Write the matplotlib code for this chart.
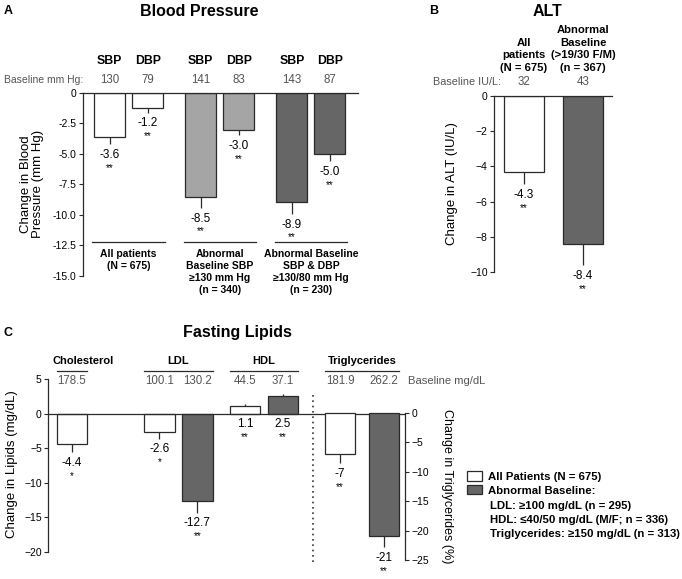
import matplotlib
matplotlib.use("Agg")
import matplotlib.pyplot as plt
import matplotlib.transforms as mtransforms
from matplotlib.patches import Patch

plt.rcParams['font.family'] = ['Liberation Sans', 'DejaVu Sans']

# ---- data ----
bp_measures = ["SBP", "DBP"]
bp_groups = ["All patients\n(N = 675)",
             "Abnormal\nBaseline SBP\n≥130 mm Hg\n(n = 340)",
             "Abnormal Baseline\nSBP & DBP\n≥130/80 mm Hg\n(n = 230)"]
bp_baseline = [130, 79, 141, 83, 143, 87]
bp_change = [-3.6, -1.2, -8.5, -3.0, -8.9, -5.0]
bp_err = [0.6, 0.4, 0.9, 0.45, 1.0, 0.6]
bp_sig = ["**", "**", "**", "**", "**", "**"]

alt_groups = ["All\npatients\n(N = 675)", "Abnormal\nBaseline\n(>19/30 F/M)\n(n = 367)"]
alt_baseline = [32, 43]
alt_change = [-4.3, -8.4]
alt_err = [0.7, 1.2]
alt_sig = ["**", "**"]

lipid_names = ["Cholesterol", "LDL", "HDL", "Triglycerides"]
lipid_members = [[0], [1, 2], [3, 4], [5, 6]]
lipid_baseline = ["178.5", "100.1", "130.2", "44.5", "37.1", "181.9", "262.2"]
lipid_change = [-4.4, -2.6, -12.7, 1.1, 2.5, -7, -21]
lipid_err = [1.2, 1.0, 1.6, 0.35, 0.4, 1.5, 1.8]
lipid_sig = ["*", "*", "**", "**", "**", "**", "**"]
lipid_pop = ["all", "all", "abn", "all", "abn", "all", "abn"]
lipid_on_right = [False, False, False, False, False, True, True]

legend_labels = ["All Patients (N = 675)", "Abnormal Baseline:"]
legend_extra = ["LDL: ≥100 mg/dL (n = 295)",
                "HDL: ≤40/50 mg/dL (M/F; n = 336)",
                "Triglycerides: ≥150 mg/dL (n = 313)"]

# ---- style / layout ----
W, H = 682, 579
WHITE, LIGHT, DARK = "#ffffff", "#a5a5a5", "#666666"
EDGE = "#2a2a2a"
GREY_TXT = "#555555"
TICK_FS, LAB_FS, HEAD_FS, YL_FS, TITLE_FS = 7.5, 8.5, 8, 9.5, 11.5
BASE_FS, LEG_FS = 8.3, 8.2

fig = plt.figure(figsize=(W / 100, H / 100), dpi=100)


def box(x0, y0, x1, y1):
    return [x0 / W, 1 - y1 / H, (x1 - x0) / W, (y1 - y0) / H]


def fy(py):
    return 1 - py / H


def one_sided(vals, errs):
    lo = [e if v < 0 else 0 for v, e in zip(vals, errs)]
    hi = [e if v > 0 else 0 for v, e in zip(vals, errs)]
    return [lo, hi]


def style_axis(ax):
    ax.tick_params(axis='y', labelsize=TICK_FS, length=3, width=0.8, pad=1.5, color=EDGE)
    ax.set_xticks([])
    for s in ax.spines.values():
        s.set_color(EDGE)
        s.set_linewidth(0.9)


def value_labels(ax, xs, vals, errs, sigs, fmt):
    for x, v, e, s in zip(xs, vals, errs, sigs):
        y0 = v - e if v < 0 else 0
        ax.annotate(fmt(v), (x, y0), xytext=(0, -3.5), textcoords='offset points',
                    ha='center', va='top', fontsize=LAB_FS, annotation_clip=False)
        ax.annotate(s, (x, y0), xytext=(0, -13.5), textcoords='offset points',
                    ha='center', va='top', fontsize=LAB_FS - 1.5, annotation_clip=False)


bar_kw = dict(edgecolor=EDGE, linewidth=0.9,
              error_kw=dict(ecolor=EDGE, elinewidth=0.9, capsize=0))

# ================= A: blood pressure =================
axA = fig.add_axes(box(83, 93, 358, 276))
group_start = [0, 2.4, 4.8]
xA = [g + m for g in group_start for m in range(len(bp_measures))]
colA = [WHITE, WHITE, LIGHT, LIGHT, DARK, DARK]
axA.bar(xA, bp_change, width=0.82, color=colA,
        yerr=one_sided(bp_change, bp_err), **bar_kw)
axA.set_xlim(-0.70, 6.54)
axA.set_ylim(-15, 0)
ticksA = [0, -2.5, -5, -7.5, -10, -12.5, -15]
axA.set_yticks(ticksA)
axA.set_yticklabels(["0"] + [f"{t:.1f}" for t in ticksA[1:]])
style_axis(axA)
axA.spines['right'].set_visible(False)
axA.spines['bottom'].set_visible(False)
value_labels(axA, xA, bp_change, bp_err, bp_sig, lambda v: f"{v:.1f}")

trA = mtransforms.blended_transform_factory(axA.transData, fig.transFigure)
for i, x in enumerate(xA):
    axA.text(x, fy(61), bp_measures[i % 2], transform=trA, ha='center', va='center',
             fontsize=8.8, fontweight='bold')
    axA.text(x, fy(80), str(bp_baseline[i]), transform=trA, ha='center', va='center',
             fontsize=BASE_FS, color=GREY_TXT)
fig.text(83 / W, fy(80), "Baseline mm Hg:", ha='right', va='center',
         fontsize=7.5, color=GREY_TXT)
for g, lab in zip(group_start, bp_groups):
    c = g + 0.5
    axA.plot([c - 0.95, c + 0.95], [fy(242)] * 2, transform=trA, color=EDGE,
             lw=0.9, clip_on=False)
    axA.text(c, fy(249), lab, transform=trA, ha='center', va='top', fontsize=TICK_FS,
             fontweight='bold', linespacing=1.25)
fig.text(32 / W, fy(184), "Change in Blood\nPressure (mm Hg)", rotation=90,
         ha='center', va='center', fontsize=YL_FS, linespacing=1.1)
fig.text(199 / W, fy(11), "Blood Pressure", ha='center', va='center',
         fontsize=TITLE_FS, fontweight='bold')
fig.text(4 / W, fy(11), "A", ha='left', va='center', fontsize=9, fontweight='bold')

# ================= B: ALT =================
axB = fig.add_axes(box(494, 96, 612, 272))
xB = list(range(len(alt_change)))
axB.bar(xB, alt_change, width=0.67, color=[WHITE, DARK],
        yerr=one_sided(alt_change, alt_err), **bar_kw)
axB.set_xlim(-0.5, 1.49)
axB.set_ylim(-10, 0)
axB.set_yticks([0, -2, -4, -6, -8, -10])
style_axis(axB)
axB.spines['right'].set_visible(False)
axB.spines['bottom'].set_visible(False)
value_labels(axB, xB, alt_change, alt_err, alt_sig, lambda v: f"{v:.1f}")

trB = mtransforms.blended_transform_factory(axB.transData, fig.transFigure)
for x, lab, b in zip(xB, alt_groups, alt_baseline):
    axB.text(x, fy(73), lab, transform=trB, ha='center', va='bottom',
             fontsize=8.1, fontweight='bold', linespacing=1.32)
    axB.text(x, fy(82), str(b), transform=trB, ha='center', va='center',
             fontsize=BASE_FS, color=GREY_TXT)
fig.text(501 / W, fy(82), "Baseline IU/L:", ha='right', va='center',
         fontsize=7.8, color=GREY_TXT)
fig.text(452 / W, fy(184), "Change in ALT (IU/L)", rotation=90,
         ha='center', va='center', fontsize=YL_FS)
fig.text(547 / W, fy(11), "ALT", ha='center', va='center',
         fontsize=TITLE_FS, fontweight='bold')
fig.text(429 / W, fy(11), "B", ha='left', va='center', fontsize=9, fontweight='bold')

# ================= C: fasting lipids =================
axC = fig.add_axes(box(48, 379, 405, 560))
axC2 = axC.twinx()
xC = [0, 2.3, 3.3, 4.55, 5.55, 7.05, 8.2]
wC = 0.8
pop_color = {"all": WHITE, "abn": DARK}
for ax, right in ((axC, False), (axC2, True)):
    idx = [i for i, r in enumerate(lipid_on_right) if r == right]
    xs = [xC[i] for i in idx]
    vals = [lipid_change[i] for i in idx]
    errs = [lipid_err[i] for i in idx]
    ax.bar(xs, vals, width=wC, color=[pop_color[lipid_pop[i]] for i in idx],
           yerr=one_sided(vals, errs), **bar_kw)
    value_labels(ax, xs, vals, errs, [lipid_sig[i] for i in idx], lambda v: f"{v:g}")

axC.set_xlim(-0.63, 8.76)
axC.set_ylim(-21.16, 5)
axC.set_yticks([5, 0, -5, -10, -15, -20])
axC2.set_ylim(-25, 5.78)
axC2.set_yticks([0, -5, -10, -15, -20, -25])
style_axis(axC)
style_axis(axC2)
axC.spines['left'].set_bounds(-20, 5)
axC2.spines['right'].set_bounds(-25, 0)
for s in ('top', 'bottom', 'right'):
    axC.spines[s].set_visible(False)
for s in ('top', 'bottom', 'left'):
    axC2.spines[s].set_visible(False)
axC.axhline(0, color=EDGE, lw=0.9, zorder=3)
axC.axvline(6.34, ymin=-0.01, ymax=0.93, color="#333333", lw=1.2,
            linestyle=(0, (1, 2.2)), clip_on=False)

trC = mtransforms.blended_transform_factory(axC.transData, fig.transFigure)
head_shift = [0.29, 0, 0, 0]
for name, members, sh in zip(lipid_names, lipid_members, head_shift):
    left = xC[members[0]] - wC / 2
    right = xC[members[-1]] + wC / 2
    axC.plot([left, right], [fy(371)] * 2, transform=trC, color=EDGE, lw=0.9,
             clip_on=False)
    axC.text((left + right) / 2 + sh, fy(361), name, transform=trC, ha='center',
             va='center', fontsize=HEAD_FS, fontweight='bold')
for x, b in zip(xC, lipid_baseline):
    axC.text(x, fy(381), b, transform=trC, ha='center', va='center',
             fontsize=BASE_FS, color=GREY_TXT)
fig.text(408 / W, fy(381), "Baseline mg/dL", ha='left', va='center',
         fontsize=8.1, color=GREY_TXT)
fig.text(12 / W, fy(464), "Change in Lipids (mg/dL)", rotation=90,
         ha='center', va='center', fontsize=YL_FS)
fig.text(447 / W, fy(486), "Change in Triglycerides (%)", rotation=270,
         ha='center', va='center', fontsize=YL_FS - 0.5)
fig.text(237 / W, fy(333), "Fasting Lipids", ha='center', va='center',
         fontsize=TITLE_FS, fontweight='bold')
fig.text(4 / W, fy(333), "C", ha='left', va='center', fontsize=9, fontweight='bold')

# legend
handles = [Patch(facecolor=WHITE, edgecolor=EDGE, linewidth=0.9),
           Patch(facecolor=DARK, edgecolor=EDGE, linewidth=0.9)]
fig.legend(handles, legend_labels, loc='upper left',
           bbox_to_anchor=(467 / W, fy(471)), frameon=False,
           prop=dict(size=LEG_FS, weight='bold'), handlelength=1.35,
           handleheight=0.95, handletextpad=0.5, labelspacing=0.25,
           borderpad=0, borderaxespad=0)
for i, line in enumerate(legend_extra):
    fig.text(490 / W, fy(506 + 14 * i), line, ha='left', va='center',
             fontsize=LEG_FS, fontweight='bold')

fig.savefig("out.png", dpi=100)
